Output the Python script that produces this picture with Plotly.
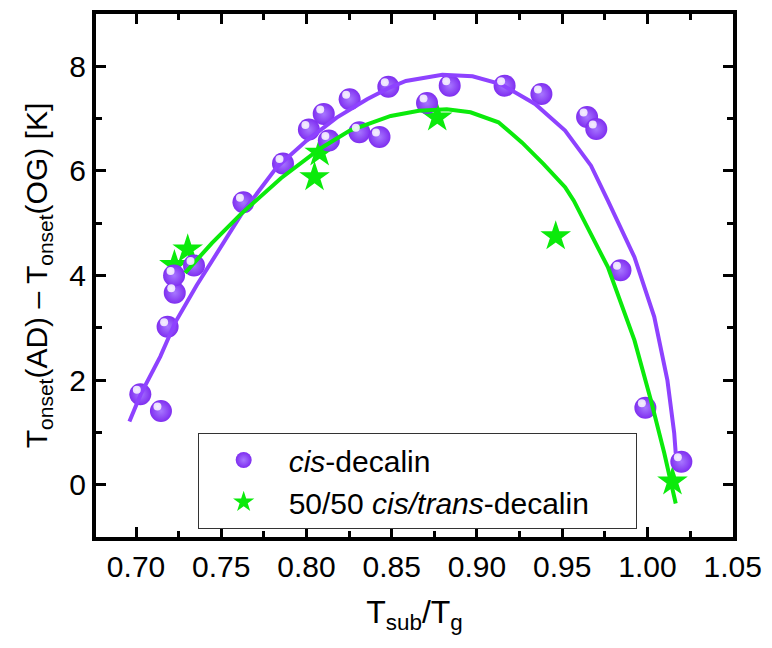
import plotly.graph_objects as go

# ---- data ----
cis_x = [0.7025, 0.7146, 0.7185, 0.7227, 0.7223, 0.7340, 0.7630, 0.7862, 0.8014, 0.8101,
         0.8131, 0.8253, 0.8310, 0.8428, 0.8480, 0.8707, 0.8840, 0.9162, 0.9378, 0.9646,
         0.9700, 0.9842, 0.9988, 1.0199]
cis_y = [1.73, 1.41, 3.02, 3.67, 4.00, 4.19, 5.40, 6.14, 6.79, 7.09,
         6.58, 7.37, 6.74, 6.65, 7.61, 7.30, 7.63, 7.63, 7.47, 7.03,
         6.80, 4.10, 1.47, 0.44]

mix_x = [0.7225, 0.7303, 0.8047, 0.8077, 0.8767, 0.9462, 1.0147]
mix_y = [4.20, 4.50, 5.88, 6.35, 7.02, 4.75, 0.06]

cis_fit_x = [0.6961, 0.7029, 0.7142, 0.7231, 0.7355, 0.7495, 0.7622, 0.7825, 0.8001, 0.8177,
             0.8355, 0.8480, 0.8583, 0.8797, 0.8974, 0.9139, 0.9341, 0.9517, 0.9669, 0.9768,
             0.9924, 1.0040, 1.0117, 1.0157, 1.0166]
cis_fit_y = [1.21, 1.74, 2.45, 3.11, 3.81, 4.54, 5.19, 6.07, 6.58, 7.02,
             7.37, 7.58, 7.72, 7.84, 7.81, 7.66, 7.28, 6.77, 6.10, 5.43,
             4.35, 3.21, 2.00, 0.99, 0.60]

mix_fit_x = [0.7288, 0.7369, 0.7445, 0.7610, 0.7850, 0.8077, 0.8254, 0.8494, 0.8659,
             0.8823, 0.8962, 0.9126, 0.9265, 0.9391, 0.9517, 0.9568, 0.9768, 0.9924, 1.0020,
             1.0099, 1.0166]
mix_fit_y = [4.05, 4.35, 4.62, 5.16, 5.86, 6.42, 6.77, 7.05, 7.15,
             7.18, 7.12, 6.93, 6.54, 6.13, 5.69, 5.43, 4.16, 2.76, 1.62,
             0.60, -0.36]

x_ticks = [0.70, 0.75, 0.80, 0.85, 0.90, 0.95, 1.00, 1.05]
y_ticks = [0, 2, 4, 6, 8]

PURPLE_LINE = "#8E42FF"
GREEN = "#0BEA0B"
FONT = "Liberation Sans, Arial, sans-serif"

XR = [0.6765, 1.0502]
YR = [-1, 9]
# page body has an 8px margin; figure sized so the plot lands where the reference has it
W, H = 764, 640
ML, MR, MT, MB = 88, 39, 6, 111
pw, ph = W - ML - MR, H - MT - MB
# highlight offset (in pixels) for the sphere shine
dxp, dyp = 3.5, 4.5
dx = dxp * (XR[1] - XR[0]) / pw
dy = dyp * (YR[1] - YR[0]) / ph

fig = go.Figure()

fig.add_trace(go.Scatter(
    x=mix_x, y=mix_y, mode="markers",
    name="50/50 <i>cis/trans</i>-decalin" + "\u00a0" * 5,
    legendrank=2,
    marker=dict(symbol="star", size=23, color=GREEN, line=dict(width=0)),
))
fig.add_trace(go.Scatter(
    x=cis_x, y=cis_y, mode="markers", name="<i>cis</i>-decalin",
    legendrank=1,
    marker=dict(symbol="circle", size=22, color="#7F2EF0",
                gradient=dict(type="radial", color="#A777FF"), line=dict(width=0)),
))
fig.add_trace(go.Scatter(
    x=cis_fit_x, y=cis_fit_y, mode="lines", showlegend=False,
    line=dict(color=PURPLE_LINE, width=4),
))
fig.add_trace(go.Scatter(
    x=mix_fit_x, y=mix_fit_y, mode="lines", showlegend=False,
    line=dict(color=GREEN, width=4),
))
# shine on spheres (overlay axes shifted a few pixels)
fig.add_trace(go.Scatter(
    x=cis_x, y=cis_y, mode="markers", showlegend=False, hoverinfo="skip",
    xaxis="x2", yaxis="y2",
    marker=dict(symbol="circle", size=8, color="#F4EEFF",
                gradient=dict(type="radial", color="#FFFFFF"), opacity=0.9, line=dict(width=0)),
))

axis_common = dict(
    showline=True, linecolor="black", linewidth=4, mirror="ticks",
    ticks="inside", ticklen=10, tickwidth=3, tickcolor="black",
    showgrid=False, zeroline=False,
    tickfont=dict(family=FONT, size=30, color="black"),
)

fig.update_layout(
    width=W, height=H,
    margin=dict(l=ML, r=MR, t=MT, b=MB, autoexpand=False),
    paper_bgcolor="white", plot_bgcolor="white",
    font=dict(family=FONT, color="black"),
    xaxis=dict(
        range=XR, tickvals=x_ticks, ticktext=[f"{v:.2f}" for v in x_ticks],
        minor=dict(dtick=0.025, tick0=0.7, ticks="inside", ticklen=6, tickwidth=3, tickcolor="black"),
        title=dict(text="T<sub>sub</sub>/T<sub>g</sub>", font=dict(family=FONT, size=32), standoff=20),
        **axis_common,
    ),
    yaxis=dict(
        range=YR, tickvals=y_ticks,
        minor=dict(dtick=1, tick0=0, ticks="inside", ticklen=6, tickwidth=3, tickcolor="black"),
        title=dict(text="T<sub>onset</sub>(AD) – T<sub>onset</sub>(OG) [K]",
                   font=dict(family=FONT, size=30), standoff=14),
        **axis_common,
    ),
    xaxis2=dict(overlaying="x", range=[XR[0] + dx, XR[1] + dx], visible=False),
    yaxis2=dict(overlaying="y", range=[YR[0] - dy, YR[1] - dy], visible=False),
    legend=dict(
        x=0.1596, y=0.1989, xanchor="left", yanchor="top",
        bordercolor="#333333", borderwidth=1, bgcolor="white",
        font=dict(family=FONT, size=30, color="black"),
        tracegroupgap=0, itemwidth=80,
    ),
    showlegend=True,
)

fig.write_html("out.html")
